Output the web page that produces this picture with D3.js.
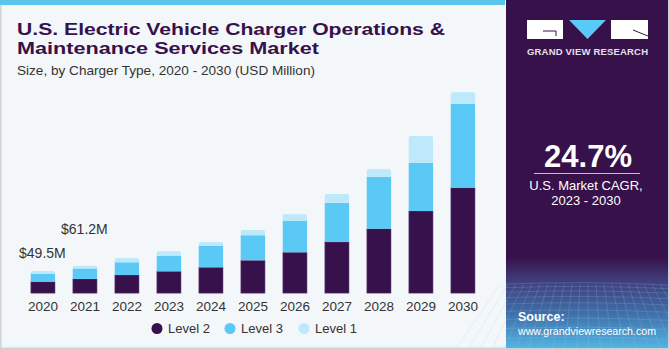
<!DOCTYPE html>
<html><head><meta charset="utf-8">
<script src="https://cdn.jsdelivr.net/npm/d3@7"></script>
<style>html,body{margin:0;padding:0;background:#fff;}svg{display:block;}</style>
</head><body>
<svg id="chart" width="670" height="350"></svg>
<script>
const years = ["2020","2021","2022","2023","2024","2025","2026","2027","2028","2029","2030"];
const level2 = [25.8, 32.0, 40.7, 48.9, 57.8, 73.3, 91.1, 114.0, 143.5, 182.8, 234.6];
const level3 = [17.8, 23.1, 28.2, 34.7, 48.0, 55.6, 70.2, 87.3, 115.5, 107.3, 186.0];
const level1 = [6.0, 6.1, 9.6, 9.8, 8.2, 11.8, 14.2, 19.3, 16.4, 59.3, 26.0];
const seriesNames = ["Level 2", "Level 3", "Level 1"];
const seriesColors = ["#37114b", "#5bc9f5", "#bde9fa"];
const valueLabels = [{year:"2020", text:"$49.5M"}, {year:"2021", text:"$61.2M"}];

const svg = d3.select("#chart");
const FF = "Liberation Sans, Arial, sans-serif";

// backgrounds
svg.append("rect").attr("x",0).attr("y",0).attr("width",670).attr("height",350).attr("fill","#f3f7fa");
svg.append("rect").attr("x",0).attr("y",0).attr("width",505).attr("height",5).attr("fill","#5bc3ec");
svg.append("rect").attr("x",0).attr("y",5).attr("width",1.5).attr("height",345).attr("fill","#cfd3d6");
svg.append("rect").attr("x",0).attr("y",347.5).attr("width",670).attr("height",2.5).attr("fill","#cfd3d6");

// right panel
const defs = svg.append("defs");
const g1 = defs.append("linearGradient").attr("id","pg").attr("x1",0).attr("y1",0).attr("x2",0).attr("y2",1);
g1.append("stop").attr("offset","0").attr("stop-color","#37114a");
g1.append("stop").attr("offset","0.74").attr("stop-color","#37114a");
g1.append("stop").attr("offset","0.80").attr("stop-color","#3f3a78");
g1.append("stop").attr("offset","0.90").attr("stop-color","#3f6ea8");
g1.append("stop").attr("offset","1").attr("stop-color","#52b4e2");
svg.append("rect").attr("x",506).attr("y",0).attr("width",162).attr("height",348).attr("fill","url(#pg)");
svg.append("rect").attr("x",668).attr("y",0).attr("width",2).attr("height",350).attr("fill","#cfd3d6");

// grid pattern in bottom of panel
const grid = svg.append("g").attr("stroke","#9fc6ec").attr("stroke-opacity",0.35).attr("stroke-width",0.6).attr("fill","none");
for (let i=0;i<12;i++){
  const yy = 284 + i*i*0.45 + i*3.2;
  grid.append("path").attr("d",`M506,${yy} Q587,${yy-3} 668,${yy+1}`);
}
for (let i=0;i<24;i++){
  const xx = 500 + i*8;
  grid.append("path").attr("d",`M${xx},284 L${xx + (xx-587)*0.5},348`);
}

// logo
const logo = svg.append("g");
logo.append("rect").attr("x",527).attr("y",20).attr("width",36).attr("height",19).attr("fill","#ffffff");
logo.append("path").attr("d","M543,31 L556,31 L556,36").attr("stroke","#37114a").attr("stroke-width",1).attr("fill","none");
logo.append("path").attr("d","M569,20 L606,20 L587.5,39 Z").attr("fill","#5bc9f5");
logo.append("rect").attr("x",611).attr("y",20).attr("width",37).attr("height",19).attr("fill","#ffffff");
logo.append("path").attr("d","M633,30 L648,36").attr("stroke","#37114a").attr("stroke-width",1);
logo.append("text").attr("x",527).attr("y",54.5)
  .attr("font-family",FF).attr("font-weight","bold").attr("font-size",9.5)
  .attr("textLength",121).attr("lengthAdjust","spacing")
  .attr("fill","#e6e0ec").text("GRAND VIEW RESEARCH");

// CAGR
svg.append("text").attr("x",544).attr("y",166.5)
  .attr("font-family",FF).attr("font-weight","bold").attr("font-size",32)
  .attr("textLength",88).attr("lengthAdjust","spacingAndGlyphs")
  .attr("fill","#ffffff").text("24.7%");
svg.append("line").attr("x1",534).attr("x2",640).attr("y1",173.5).attr("y2",173.5).attr("stroke","#c9bfd3").attr("stroke-width",1);
svg.append("text").attr("x",586).attr("y",190).attr("text-anchor","middle")
  .attr("font-family",FF).attr("font-size",13).attr("fill","#ffffff").text("U.S. Market CAGR,");
svg.append("text").attr("x",586).attr("y",205).attr("text-anchor","middle")
  .attr("font-family",FF).attr("font-size",13).attr("fill","#ffffff").text("2023 - 2030");

// source
svg.append("text").attr("x",518).attr("y",320.5)
  .attr("font-family",FF).attr("font-weight","bold").attr("font-size",12.5)
  .attr("fill","#ffffff").text("Source:");
svg.append("text").attr("x",518).attr("y",335)
  .attr("font-family",FF).attr("font-size",11.5)
  .attr("textLength",138).attr("lengthAdjust","spacingAndGlyphs")
  .attr("fill","#ffffff").text("www.grandviewresearch.com");

// titles
svg.append("text").attr("x",17).attr("y",34.5)
  .attr("font-family",FF).attr("font-weight","bold").attr("font-size",16.5).attr("fill","#37114a")
  .attr("textLength",428).attr("lengthAdjust","spacingAndGlyphs")
  .text("U.S. Electric Vehicle Charger Operations &");
svg.append("text").attr("x",17).attr("y",53.5)
  .attr("font-family",FF).attr("font-weight","bold").attr("font-size",16.5).attr("fill","#37114a")
  .attr("textLength",302).attr("lengthAdjust","spacingAndGlyphs")
  .text("Maintenance Services Market");
svg.append("text").attr("x",17).attr("y",75)
  .attr("font-family",FF).attr("font-size",13.5)
  .attr("fill","#333333").attr("textLength",298).attr("lengthAdjust","spacingAndGlyphs")
  .text("Size, by Charger Type, 2020 - 2030 (USD Million)");

// scales
const x = d3.scaleBand().domain(years).range([21.9, 483.9]).paddingInner(0.42).paddingOuter(0.21);
const y = d3.scaleLinear().domain([0, 450]).range([293.3, 90.6]);

const rows = years.map((yr,i)=>({year:yr, "Level 2":level2[i], "Level 3":level3[i], "Level 1":level1[i]}));
const stack = d3.stack().keys(seriesNames)(rows);

const bars = svg.append("g");
stack.forEach((s, si) => {
  bars.append("g").attr("fill", seriesColors[si])
    .selectAll("path").data(s).join("path")
    .attr("d", d => {
      const x0 = x(d.data.year), w = x.bandwidth();
      const yt = y(d[1]), yb = y(d[0]);
      if (si === stack.length - 1) {
        const r = 2;
        return `M${x0},${yb} L${x0},${yt+r} Q${x0},${yt} ${x0+r},${yt} L${x0+w-r},${yt} Q${x0+w},${yt} ${x0+w},${yt+r} L${x0+w},${yb} Z`;
      }
      return `M${x0},${yb} L${x0},${yt} L${x0+w},${yt} L${x0+w},${yb} Z`;
    })
    .attr("stroke", si === 0 ? "#8a6f99" : "none").attr("stroke-width", 0.6).attr("stroke-opacity", 0.7);
});

// axis
const ax = svg.append("g").attr("transform","translate(0,293.3)")
  .call(d3.axisBottom(x).tickSize(0).tickPadding(8));
ax.select(".domain").remove();
ax.selectAll("text").attr("font-family",FF).attr("font-size",13.5).attr("fill","#333333");

// value labels
const totals = years.map((yr,i)=>level2[i]+level3[i]+level1[i]);
valueLabels.forEach((v, k) => {
  const i = years.indexOf(v.year);
  svg.append("text").attr("x", x(v.year) + x.bandwidth()/2 - 0.5).attr("y", y(totals[i]) - (k===0 ? 13 : 32))
    .attr("text-anchor","middle").attr("font-family",FF).attr("font-size",14)
    .attr("fill","#333333").text(v.text);
});

// legend
const legX = [157, 230, 304];
const leg = svg.append("g");
seriesNames.forEach((n,i)=>{
  leg.append("circle").attr("cx",legX[i]).attr("cy",328.5).attr("r",5.5).attr("fill",seriesColors[i]);
  leg.append("text").attr("x",legX[i]+11).attr("y",333).attr("font-family",FF)
    .attr("font-size",13).attr("fill","#333333").text(n);
});
</script>
</body></html>
